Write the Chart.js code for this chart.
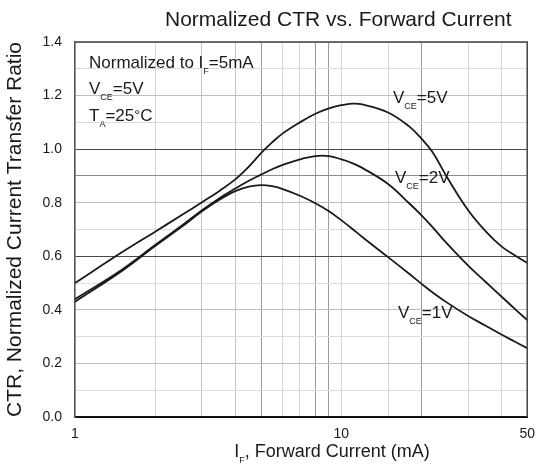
<!DOCTYPE html>
<html><head><meta charset="utf-8">
<style>html,body{margin:0;padding:0;background:#fff}#wrap{width:544px;height:472px;position:relative}</style>
<script src="https://cdn.jsdelivr.net/npm/chart.js@4/dist/chart.umd.min.js"></script>
</head><body><div id="wrap"><canvas id="c" width="544" height="472"></canvas></div>
<script>
// Forward current IF (mA)
const currents = [1,1.5,2,2.5,3,3.5,4,4.5,5,5.5,6,7,8,9,10,11,12,15,18,20,22,25,30,35,40,45,50];
// Normalized CTR for each VCE
const ctrVce5 = [0.50,0.615,0.692,0.752,0.802,0.845,0.887,0.935,0.985,1.025,1.057,1.10,1.132,1.152,1.164,1.17,1.167,1.137,1.085,1.04,0.99,0.895,0.772,0.692,0.637,0.603,0.575];
const ctrVce2 = [0.44,0.55,0.642,0.712,0.772,0.818,0.853,0.882,0.905,0.925,0.94,0.962,0.974,0.974,0.962,0.948,0.93,0.87,0.798,0.754,0.71,0.647,0.565,0.503,0.45,0.403,0.362];
const ctrVce1 = [0.43,0.545,0.638,0.708,0.768,0.812,0.843,0.86,0.866,0.862,0.852,0.826,0.798,0.768,0.735,0.703,0.672,0.597,0.535,0.498,0.466,0.427,0.377,0.34,0.308,0.281,0.257];
const xTickLabels = [1,10,50];
const yMin = 0, yMax = 1.4, yStep = 0.1;

const FONT = '"Liberation Sans", Arial, Helvetica, sans-serif';
const INK = '#1a1a1a';

function pts(ys){ return currents.map((x,i)=>({x:x,y:ys[i]})); }

function drawParts(ctx, x, y, parts){
  let cx = x;
  for (const p of parts){
    ctx.font = p[1] + 'px ' + FONT;
    ctx.fillText(p[0], cx, y + (p[2]||0));
    cx += ctx.measureText(p[0]).width;
  }
  return cx - x;
}
function widthParts(ctx, parts){
  let w = 0;
  for (const p of parts){ ctx.font = p[1] + 'px ' + FONT; w += ctx.measureText(p[0]).width; }
  return w;
}

const textPlugin = {
  id: 'texts',
  afterDraw(chart){
    const ctx = chart.ctx, a = chart.chartArea;
    ctx.save();
    ctx.strokeStyle = '#444'; ctx.lineWidth = 1.5;
    ctx.beginPath();
    ctx.moveTo(a.left, a.top); ctx.lineTo(a.right, a.top); ctx.lineTo(a.right, a.bottom);
    ctx.stroke();
    ctx.fillStyle = INK; ctx.textAlign = 'left'; ctx.textBaseline = 'alphabetic';
    ctx.font = '21px ' + FONT;
    ctx.fillText('Normalized CTR vs. Forward Current', 165, 26);
    drawParts(ctx, 89, 68, [['Normalized to I',17],['F',9,6],['=5mA',17]]);
    drawParts(ctx, 89, 94, [['V',17],['CE',9,6],['=5V',17]]);
    drawParts(ctx, 89, 121, [['T',17],['A',9,6],['=25',17],['°',15,-1],['C',17]]);
    drawParts(ctx, 393, 103, [['V',17],['CE',9,6],['=5V',17]]);
    drawParts(ctx, 395, 183, [['V',17],['CE',9,6],['=2V',17]]);
    drawParts(ctx, 398, 318, [['V',17],['CE',9,6],['=1V',17]]);
    const xt = [['I',18],['F',9,6],[', Forward Current (mA)',18]];
    const w = widthParts(ctx, xt);
    drawParts(ctx, 332 - w/2, 457, xt);
    ctx.restore();
  }
};

function xGridColor(c){
  const v = c.tick ? c.tick.value : 0;
  if (v===5 || v===8 || v===9 || v===20) return '#9a9a9a';
  if (v===4 || v===3) return '#c4c4c4';
  return '#d6d6d6';
}
function yGridColor(c){
  const v = c.tick ? Math.round(c.tick.value*10) : 0;
  if (v===6 || v===10) return '#4a4a4a';
  if (v===9) return '#8c8c8c';
  if (v%2===0) return '#bdbdbd';
  return '#dcdcdc';
}

const ds = (label, ys) => ({
  label, data: pts(ys), borderColor: INK, borderWidth: 1.8, pointRadius: 0,
  fill: false, tension: 0.4
});

new Chart(document.getElementById('c'), {
  type: 'line',
  data: { datasets: [ds('VCE=5V', ctrVce5), ds('VCE=2V', ctrVce2), ds('VCE=1V', ctrVce1)] },
  options: {
    responsive: false, animation: false,
    layout: { padding: { top: 42, right: 7, left: 0, bottom: 0 } },
    plugins: { legend: { display: false }, tooltip: { enabled: false }, title: { display: false } },
    scales: {
      x: {
        type: 'logarithmic', min: 1, max: 50,
        afterFit(s){ s.height = 55; },
        grid: { color: xGridColor, lineWidth: 1, drawTicks: false },
        border: { color: '#111', width: 2 },
        ticks: {
          autoSkip: false, maxRotation: 0, padding: 9, color: INK,
          font: { family: FONT, size: 14 },
          callback: (v) => xTickLabels.includes(v) ? String(v) : ''
        }
      },
      y: {
        type: 'linear', min: yMin, max: yMax,
        afterFit(s){ s.width = 75; },
        grid: { color: yGridColor, lineWidth: 1, drawTicks: false },
        border: { color: '#555', width: 1.5 },
        ticks: {
          stepSize: yStep, padding: 13, color: INK,
          font: { family: FONT, size: 14 },
          callback: (v) => (Math.round(v*10)%2===0 ? Number(v).toFixed(1) : '')
        },
        title: {
          display: true, text: 'CTR, Normalized Current Transfer Ratio', color: INK,
          font: { family: FONT, size: 21 }, padding: { top: 3, bottom: 0 }
        }
      }
    }
  },
  plugins: [textPlugin]
});
</script></body></html>
